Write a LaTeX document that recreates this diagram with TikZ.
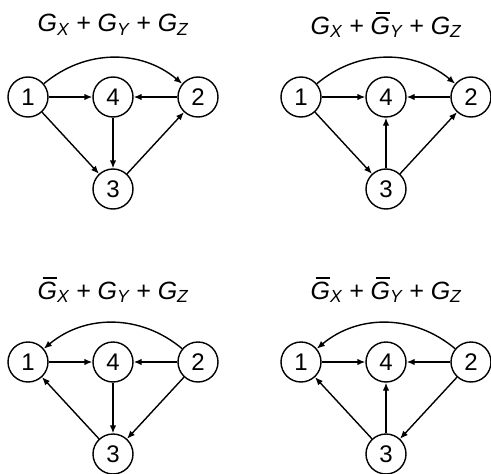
\documentclass[tikz,border=0pt]{standalone}
\usepackage{fontspec}
\setmainfont{Liberation Sans}
\usetikzlibrary{arrows.meta}

% G with a bar over it
\newcommand{\gbar}{\leavevmode\rlap{\kern0.2em\rule[0.8em]{0.56em}{0.07em}}G}

\begin{document}
\begin{tikzpicture}[x=1pt,y=-1pt,>={Latex[length=8pt,width=6.5pt]},
  vtx/.style={circle,draw,line width=1.4pt,minimum size=40pt,inner sep=0pt,
    font=\fontsize{24}{24}\selectfont},
  ttl/.style={font=\fontsize{25}{25}\selectfont\itshape},
  edge/.style={->,line width=1.4pt}]
\useasboundingbox (0,0) rectangle (491,474);
% top left: GX + GY + GZ
\begin{scope}
\node[ttl] (at) at (113,25) {G\textsubscript{X} + G\textsubscript{Y} + G\textsubscript{Z}};
\node[vtx] (a1) at (28,97) {1};
\node[vtx] (a4) at (113,97) {4};
\node[vtx] (a2) at (198,97) {2};
\node[vtx] (a3) at (113,189) {3};
\draw[edge] (a1) to[out=40,in=140] (a2);
\draw[edge] (a1)--(a4);
\draw[edge] (a2)--(a4);
\draw[edge] (a4)--(a3);
\draw[edge] (a1)--(a3);
\draw[edge] (a3)--(a2);
\end{scope}
% top right: GX + bar GY + GZ
\begin{scope}[shift={(273,0)}]
\node[ttl] (bt) at (113,25) {G\textsubscript{X} + \gbar\textsubscript{Y} + G\textsubscript{Z}};
\node[vtx] (b1) at (28,97) {1};
\node[vtx] (b4) at (113,97) {4};
\node[vtx] (b2) at (198,97) {2};
\node[vtx] (b3) at (113,189) {3};
\draw[edge] (b1) to[out=40,in=140] (b2);
\draw[edge] (b1)--(b4);
\draw[edge] (b2)--(b4);
\draw[edge] (b3)--(b4);
\draw[edge] (b1)--(b3);
\draw[edge] (b3)--(b2);
\end{scope}
% bottom left: bar GX + GY + GZ
\begin{scope}[shift={(0,265)}]
\node[ttl] (ct) at (113,25) {\gbar\textsubscript{X} + G\textsubscript{Y} + G\textsubscript{Z}};
\node[vtx] (c1) at (28,97) {1};
\node[vtx] (c4) at (113,97) {4};
\node[vtx] (c2) at (198,97) {2};
\node[vtx] (c3) at (113,189) {3};
\draw[edge] (c2) to[out=140,in=40] (c1);
\draw[edge] (c1)--(c4);
\draw[edge] (c2)--(c4);
\draw[edge] (c4)--(c3);
\draw[edge] (c3)--(c1);
\draw[edge] (c2)--(c3);
\end{scope}
% bottom right: bar GX + bar GY + GZ
\begin{scope}[shift={(273,265)}]
\node[ttl] (dt) at (113,25) {\gbar\textsubscript{X} + \gbar\textsubscript{Y} + G\textsubscript{Z}};
\node[vtx] (d1) at (28,97) {1};
\node[vtx] (d4) at (113,97) {4};
\node[vtx] (d2) at (198,97) {2};
\node[vtx] (d3) at (113,189) {3};
\draw[edge] (d2) to[out=140,in=40] (d1);
\draw[edge] (d1)--(d4);
\draw[edge] (d2)--(d4);
\draw[edge] (d3)--(d4);
\draw[edge] (d3)--(d1);
\draw[edge] (d2)--(d3);
\end{scope}
\end{tikzpicture}
\end{document}
